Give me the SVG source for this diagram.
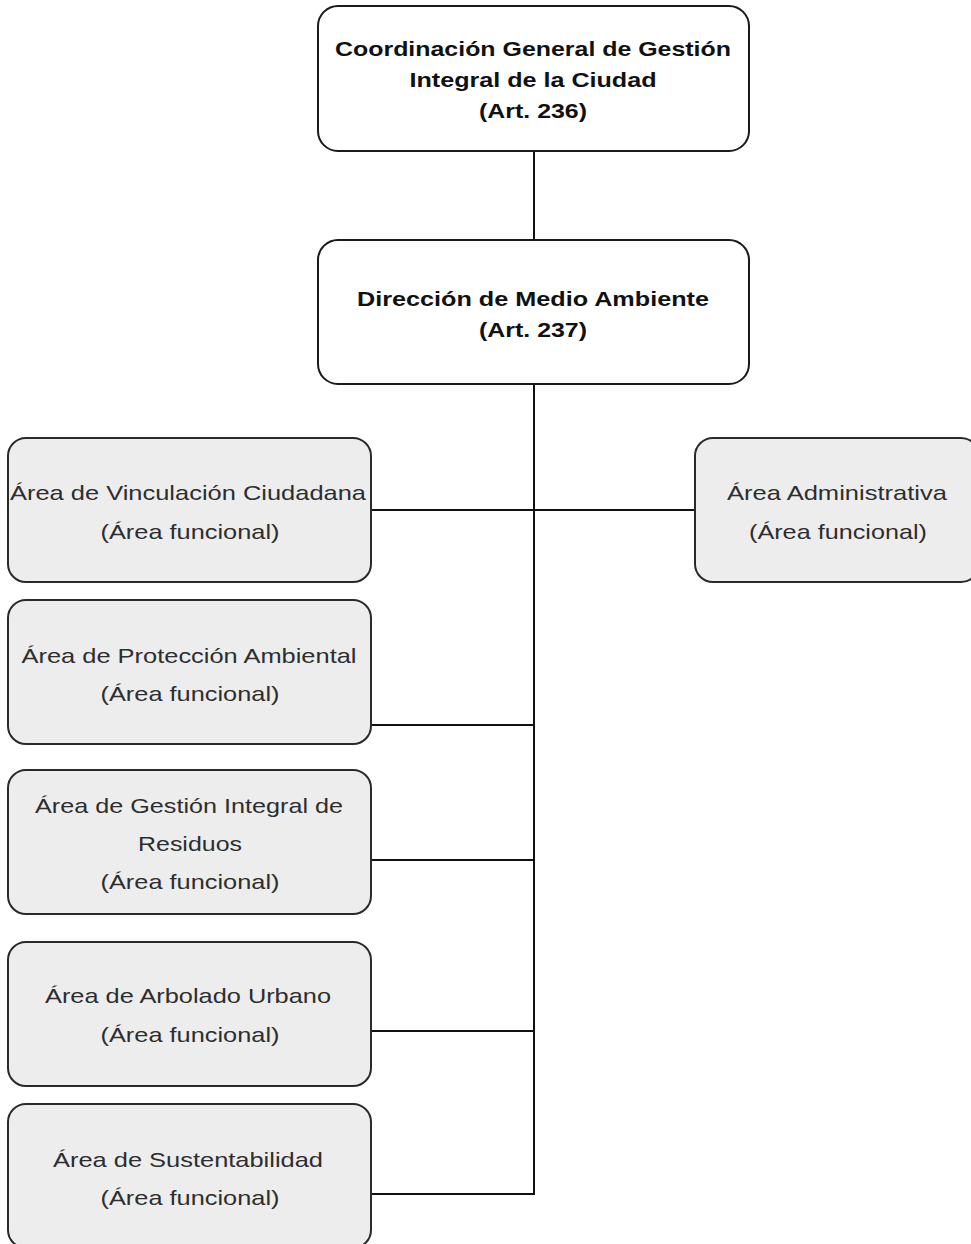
<svg xmlns="http://www.w3.org/2000/svg" width="971" height="1244" viewBox="0 0 971 1244">
<style>
.top{fill:#ffffff;stroke:#1a1a1a;stroke-width:2}
.sub{fill:#ededed;stroke:#2a2a2a;stroke-width:2}
.tb{font-family:"Liberation Sans",Arial,sans-serif;font-size:21px;font-weight:bold;fill:#111;text-anchor:middle}
.ts{font-family:"Liberation Sans",Arial,sans-serif;font-size:21px;fill:#2e2e2e;text-anchor:middle}
.conn{stroke:#111;stroke-width:2;fill:none}
</style>
<rect width="971" height="1244" fill="#ffffff"/>
<g id="connectors">
<line class="conn" x1="534" y1="151" x2="534" y2="240"/>
<line class="conn" x1="534" y1="384" x2="534" y2="1195"/>
<line class="conn" x1="371" y1="510" x2="695" y2="510"/>
<line class="conn" x1="371" y1="725" x2="534" y2="725"/>
<line class="conn" x1="371" y1="860" x2="534" y2="860"/>
<line class="conn" x1="371" y1="1031" x2="534" y2="1031"/>
<line class="conn" x1="371" y1="1194" x2="534" y2="1194"/>
</g>
<g id="coordinacion">
<rect class="top" x="318" y="6" width="431" height="145" rx="20"/>
<text class="tb" x="533" y="56" textLength="396" lengthAdjust="spacingAndGlyphs">Coordinación General de Gestión</text>
<text class="tb" x="533" y="87" textLength="247" lengthAdjust="spacingAndGlyphs">Integral de la Ciudad</text>
<text class="tb" x="533" y="118" textLength="108" lengthAdjust="spacingAndGlyphs">(Art. 236)</text>
</g>
<g id="direccion">
<rect class="top" x="318" y="240" width="431" height="144" rx="20"/>
<text class="tb" x="533" y="306" textLength="352" lengthAdjust="spacingAndGlyphs">Dirección de Medio Ambiente</text>
<text class="tb" x="533" y="337" textLength="108" lengthAdjust="spacingAndGlyphs">(Art. 237)</text>
</g>
<g id="vinculacion">
<rect class="sub" x="8" y="438" width="363" height="144" rx="18"/>
<text class="ts" x="188" y="500" textLength="356" lengthAdjust="spacingAndGlyphs">Área de Vinculación Ciudadana</text>
<text class="ts" x="190" y="539" textLength="179" lengthAdjust="spacingAndGlyphs">(Área funcional)</text>
</g>
<g id="administrativa">
<rect class="sub" x="695" y="438" width="284" height="144" rx="18"/>
<text class="ts" x="837" y="500" textLength="220" lengthAdjust="spacingAndGlyphs">Área Administrativa</text>
<text class="ts" x="838" y="539" textLength="178" lengthAdjust="spacingAndGlyphs">(Área funcional)</text>
</g>
<g id="proteccion">
<rect class="sub" x="8" y="600" width="363" height="144" rx="18"/>
<text class="ts" x="189" y="663" textLength="335" lengthAdjust="spacingAndGlyphs">Área de Protección Ambiental</text>
<text class="ts" x="190" y="701" textLength="179" lengthAdjust="spacingAndGlyphs">(Área funcional)</text>
</g>
<g id="residuos">
<rect class="sub" x="8" y="770" width="363" height="144" rx="18"/>
<text class="ts" x="189" y="813" textLength="308" lengthAdjust="spacingAndGlyphs">Área de Gestión Integral de</text>
<text class="ts" x="190" y="851" textLength="104" lengthAdjust="spacingAndGlyphs">Residuos</text>
<text class="ts" x="190" y="889" textLength="179" lengthAdjust="spacingAndGlyphs">(Área funcional)</text>
</g>
<g id="arbolado">
<rect class="sub" x="8" y="942" width="363" height="144" rx="18"/>
<text class="ts" x="188" y="1003" textLength="286" lengthAdjust="spacingAndGlyphs">Área de Arbolado Urbano</text>
<text class="ts" x="190" y="1042" textLength="179" lengthAdjust="spacingAndGlyphs">(Área funcional)</text>
</g>
<g id="sustentabilidad">
<rect class="sub" x="8" y="1104" width="363" height="144" rx="18"/>
<text class="ts" x="188" y="1167" textLength="270" lengthAdjust="spacingAndGlyphs">Área de Sustentabilidad</text>
<text class="ts" x="190" y="1205" textLength="179" lengthAdjust="spacingAndGlyphs">(Área funcional)</text>
</g>
</svg>
